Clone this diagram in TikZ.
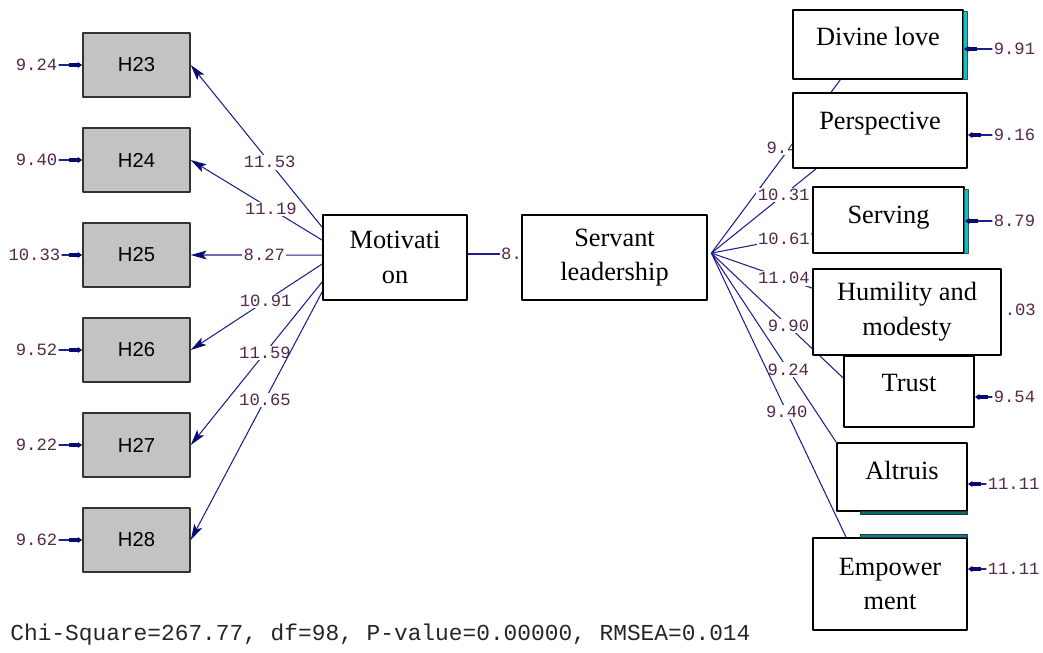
\documentclass[tikz,border=0pt]{standalone}
\usepackage{fontspec}
\setmainfont{Liberation Serif}
\newfontfamily\lismono{Liberation Mono}
\newfontfamily\lissans{Liberation Sans}
\usetikzlibrary{arrows.meta,backgrounds}
\definecolor{pathblue}{RGB}{30,30,140}
\definecolor{tipblue}{RGB}{10,10,115}
\definecolor{numcol}{RGB}{85,40,75}
\definecolor{boxgray}{RGB}{195,195,195}
\definecolor{stripcyan}{RGB}{0,200,200}
\definecolor{stripteal}{RGB}{0,110,110}
\tikzset{
	hbox/.style={draw=black!80,line width=0.9pt,fill=boxgray,minimum width=2.14cm,minimum height=1.28cm,inner sep=0pt,font=\lissans\fontsize{11.5}{12}\selectfont},
	tbox/.style={draw=black,line width=1pt,fill=white,inner sep=0pt,align=center,font=\fontsize{15}{19.8}\selectfont},
	uptext/.style 2 args={label={[font=\fontsize{15}{19.8}\selectfont,yshift=#2]center:#1}},
	lbl/.style={font=\lismono\fontsize{9.8}{10}\selectfont,text=numcol,fill=white,inner sep=0.8pt},
	conn/.style={draw=pathblue,line width=0.6pt},
	arr/.style={conn,->},
	errarr/.style={draw=pathblue,line width=0.6pt,-{Rectangle[length=5pt,width=2.8pt,color=tipblue]Triangle[length=2.5pt,width=3.2pt,color=tipblue]}}
}
\begin{document}
\begin{tikzpicture}[line cap=round,line join=round,>={Stealth[length=9pt,width=5pt,inset=2pt,color=tipblue]},x=0.02cm,y=-0.02cm]
	\useasboundingbox (0,0) rectangle (1043,652);
	\node[hbox] (h23) at (136.5,65) {H23};
	\node[hbox] (h24) at (136.5,160) {H24};
	\node[hbox] (h25) at (136.5,255) {H25};
	\node[hbox] (h26) at (136.5,350) {H26};
	\node[hbox] (h27) at (136.5,445) {H27};
	\node[hbox] (h28) at (136.5,540) {H28};
	\node[lbl,anchor=east] (e23) at (59,65) {9.24};
	\node[lbl,anchor=east] (e24) at (59,160) {9.40};
	\node[lbl,anchor=east] (e25) at (62,255) {10.33};
	\node[lbl,anchor=east] (e26) at (59,350) {9.52};
	\node[lbl,anchor=east] (e27) at (59,445) {9.22};
	\node[lbl,anchor=east] (e28) at (59,540) {9.62};
	\draw[errarr] (e23) -- (h23);
	\draw[errarr] (e24) -- (h24);
	\draw[errarr] (e25) -- (h25);
	\draw[errarr] (e26) -- (h26);
	\draw[errarr] (e27) -- (h27);
	\draw[errarr] (e28) -- (h28);
	\node[tbox,minimum width=2.88cm,minimum height=1.7cm] (mot) at (395,257.5) {Motivati\\on};
	\node[tbox,minimum width=3.7cm,minimum height=1.7cm] (sl) at (614.5,257.5) {Servant\\leadership};
	\node[tbox,minimum width=3.4cm,minimum height=1.38cm,uptext={Divine love}{4.6pt}] (dl) at (878,44.5) {};
	\node[tbox,minimum width=3.48cm,minimum height=1.5cm,uptext={Perspective}{4pt}] (ps) at (880,130.5) {};
	\node[tbox,minimum width=3.02cm,minimum height=1.32cm,uptext={Serving}{1.2pt}] (sv) at (888.5,220) {};
	\node[tbox,minimum width=3.76cm,minimum height=1.72cm] (hm) at (907,312) {Humility and\\modesty};
	\node[tbox,minimum width=2.6cm,minimum height=1.42cm,uptext={Trust}{4.8pt}] (tr) at (909,391.5) {};
	\node[tbox,minimum width=2.6cm,minimum height=1.36cm,uptext={Altruis}{3.6pt}] (al) at (902,477) {};
	\node[tbox,minimum width=3.08cm,minimum height=1.84cm] (em) at (890,584) {Empower\\ment};
	\filldraw[fill=stripcyan,draw=black!70,line width=0.4pt] (963.5,11) rectangle (967,79);
	\filldraw[fill=stripcyan,draw=black!70,line width=0.4pt] (964.5,189) rectangle (968,253);
	\filldraw[fill=stripteal,draw=black!80,line width=0.4pt] (860,511.5) rectangle (967,514);
	\filldraw[fill=stripteal!70!stripcyan,draw=black!80,line width=0.4pt] (860,534) rectangle (967,537.5);
	\node[lbl,anchor=west] (edl) at (992,49) {9.91};
	\node[lbl,anchor=west] (eps) at (992,135) {9.16};
	\node[lbl,anchor=west] (esv) at (992,221) {8.79};
	\node[lbl,anchor=west] (ehm) at (1003,310) {.03};
	\node[lbl,anchor=west] (etr) at (992,397) {9.54};
	\node[lbl,anchor=west] (eal) at (986,484) {11.11};
	\node[lbl,anchor=west] (eem) at (986,569) {11.11};
	\draw[errarr] (edl.west) -- (edl.west -| dl.east);
	\draw[errarr] (eps.west) -- (eps.west -| ps.east);
	\draw[errarr] (esv.west) -- (esv.west -| sv.east);
	\draw[errarr] (etr.west) -- (etr.west -| tr.east);
	\draw[errarr] (eal.west) -- (eal.west -| al.east);
	\draw[errarr] (eem.west) -- (eem.west -| em.east);
	\coordinate (hub) at ([xshift=2pt,yshift=2.5pt]sl.east);
	\begin{pgfonlayer}{background}
		\draw[arr] ([yshift=17.3pt]mot.west) -- node[lbl,pos=0.4]{11.53} (h23.east);
		\draw[arr] ([yshift=9.9pt]mot.west) -- node[lbl,pos=0.39]{11.19} (h24.east);
		\draw[arr] ([yshift=1.4pt]mot.west) -- node[lbl,pos=0.44]{8.27} (h25.east);
		\draw[arr] ([yshift=-3.7pt]mot.west) -- node[lbl,pos=0.43]{10.91} (h26.east);
		\draw[arr] ([yshift=-13.9pt]mot.west) -- node[lbl,pos=0.435]{11.59} (h27.east);
		\draw[arr] ([yshift=-19.6pt]mot.west) -- node[lbl,pos=0.435]{10.65} (h28.east);
		\draw[conn] ([yshift=2pt]mot.east) -- node[lbl,pos=0.82]{8.} ([yshift=2pt]sl.west);
		\draw[conn] (hub) -- node[lbl,pos=0.61,xshift=-4.5pt]{9.4} ([xshift=-21.5pt]dl.south);
		\draw[conn] (hub) -- node[lbl,pos=0.69]{10.31} ([xshift=13.6pt]ps.south west);
		\draw[conn] (hub) -- node[lbl,pos=0.72]{10.61} ([yshift=-7.9pt]sv.west);
		\draw[conn] (hub) -- node[lbl,pos=0.72]{11.04} ([yshift=13.6pt]hm.west);
		\draw[conn] (hub) -- node[lbl,pos=0.585]{9.90} ([yshift=7.7pt]tr.west);
		\draw[conn] (hub) -- node[lbl,pos=0.617]{9.24} (al.north west);
		\draw[conn] (hub) -- node[lbl,pos=0.56]{9.40} ([xshift=19.3pt]em.north west);
	\end{pgfonlayer}
	\node[anchor=west,font=\lismono\fontsize{13}{14}\selectfont,text=black!85,inner sep=0pt] (fit) at (10,635) {Chi-Square=267.77, df=98, P-value=0.00000, RMSEA=0.014};
\end{tikzpicture}
\end{document}
